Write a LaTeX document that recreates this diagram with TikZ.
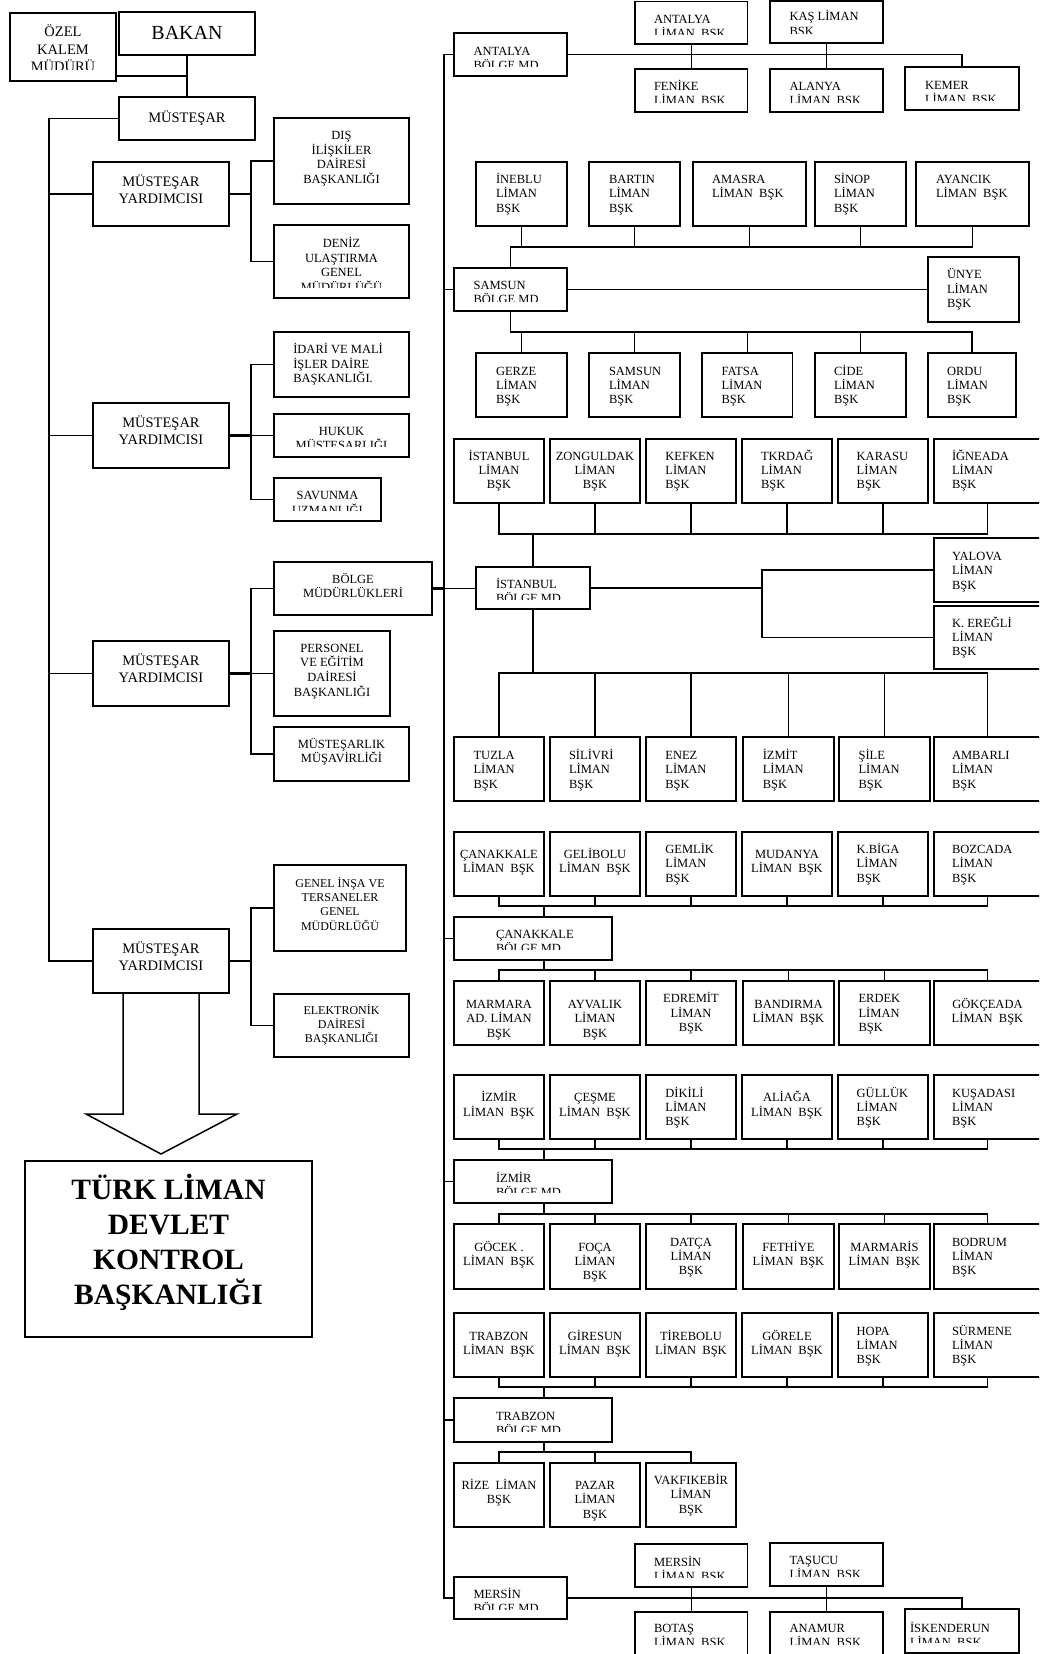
\documentclass[tikz,border=0pt]{standalone}
\usepackage{fontspec}
\setmainfont{Liberation Serif}
% stacked lines: first baseline is the box baseline, fixed line pitch
\newcommand\LinesL[1]{\vtop{\let\\\cr\lineskiplimit=-\maxdimen\halign{##\hfil\cr#1\crcr}}}
\newcommand\LinesC[1]{\vtop{\let\\\cr\lineskiplimit=-\maxdimen\halign{\hfil##\hfil\cr#1\crcr}}}
% framed box from its top-left to its bottom-right corner
\newcommand\bx[5]{\node[frame,minimum width={#4-#2},minimum height={#5-#3}] (#1) at (#2,#3) {};}
% text of a box: left aligned (offset from left side) or centred, first baseline given
\newcommand\tl[5][]{\node[txt,anchor=base west,xshift=#3pt,#1] (#2-t) at (#2.west |- 0,#4) {\LinesL{#5}};}
\newcommand\tc[4][]{\node[txt,anchor=base,#1] (#2-t) at (#2.center |- 0,#3) {\LinesC{#4}};}
% same, with the overflowing part of the text cut off
\newcommand\tlc[6][]{\begin{scope}\clip (#2.north west) rectangle (#2.east |- 0,#5);\tl[#1]{#2}{#3}{#4}{#6}\end{scope}}
\newcommand\tcc[5][]{\begin{scope}\clip (#2.north west) rectangle (#2.east |- 0,#4);\tc[#1]{#2}{#3}{#5}\end{scope}}
\begin{document}
\begin{tikzpicture}[x=1pt,y=-1pt,
  frame/.style={draw,rectangle,line width=1.6pt,inner sep=0pt,outer sep=0pt,anchor=north west},
  txt/.style={inner sep=0pt,outer sep=0pt,font=\fontsize{12.5pt}{14.3pt}\selectfont},
  depttext/.style={font=\fontsize{12.5pt}{14.7pt}\selectfont},
  mytext/.style={font=\fontsize{14.5pt}{17.5pt}\selectfont},
  conn/.style={line width=1.3pt},
  spine/.style={line width=1.6pt},
  bus/.style={line width=1.7pt},
  heavy/.style={line width=2.3pt}]
\fill[white] (0,0) rectangle (1039,1654);
\useasboundingbox (0,0) rectangle (1039,1654);
\clip (0,0) rectangle (1039,1654);

% ---------------- ministry column ----------------
\bx{ozel}{10}{13}{116}{81}
\tcc[font=\fontsize{14.5pt}{17.5pt}\selectfont]{ozel}{37}{70}{ÖZEL\\KALEM\\MÜDÜRÜ}
\bx{bakan}{119}{12}{255}{55}
\tc[font=\fontsize{20pt}{24pt}\selectfont]{bakan}{39.5}{BAKAN}
\bx{mustesar}{119}{97}{255}{140}
\tc[mytext]{mustesar}{122}{MÜSTEŞAR}

\bx{my1}{93}{162}{229}{226}
\tc[mytext]{my1}{186}{MÜSTEŞAR\\YARDIMCISI}
\bx{my2}{93}{403}{229}{468}
\tc[mytext]{my2}{427}{MÜSTEŞAR\\YARDIMCISI}
\bx{my3}{93}{641}{229}{706}
\tc[mytext]{my3}{665}{MÜSTEŞAR\\YARDIMCISI}
\bx{my4}{93}{929}{229}{993}
\tc[mytext]{my4}{953}{MÜSTEŞAR\\YARDIMCISI}

\bx{dis}{274}{118}{409}{204}
\tc[depttext]{dis}{139.5}{DIŞ\\İLİŞKİLER\\DAİRESİ\\BAŞKANLIĞI}
\bx{deniz}{274}{225}{409}{298}
\tcc[depttext]{deniz}{247.5}{287}{DENİZ\\ULAŞTIRMA\\GENEL\\MÜDÜRLÜĞÜ}
\bx{idari}{274}{332}{409}{397}
\tl[depttext]{idari}{19.3}{353.5}{İDARİ VE MALİ\\İŞLER DAİRE\\BAŞKANLIĞI.}
\bx{hukuk}{274}{414}{409}{457}
\tcc[depttext]{hukuk}{435}{446}{HUKUK\\MÜSTEŞARLIĞI}
\bx{savunma}{274}{478}{381}{521}
\tcc[depttext]{savunma}{499.5}{510.5}{SAVUNMA\\UZMANLIĞI}
\bx{bolgemud}{274}{562}{432}{615}
\tc[depttext]{bolgemud}{583}{BÖLGE\\MÜDÜRLÜKLERİ}
\bx{personel}{274}{631}{390}{716}
\tc[depttext]{personel}{652}{PERSONEL\\VE EĞİTİM\\DAİRESİ\\BAŞKANLIĞI}
\bx{musavir}{274}{727}{409}{781}
\tc[depttext]{musavir}{748}{MÜSTEŞARLIK\\MÜŞAVİRLİĞİ}
\bx{genel}{274}{865}{406}{951}
\tc[font=\fontsize{12pt}{14.3pt}\selectfont]{genel}{887.3}{GENEL İNŞA VE\\TERSANELER\\GENEL\\MÜDÜRLÜĞÜ}
\bx{elektronik}{274}{994}{409}{1057}
\tc[font=\fontsize{12pt}{14pt}\selectfont]{elektronik}{1014.8}{ELEKTRONİK\\DAİRESİ\\BAŞKANLIĞI}

\bx{turk}{25}{1161}{312}{1337}
\tc[font=\fontsize{29.5pt}{35.2pt}\selectfont\bfseries]{turk}{1199}{TÜRK LİMAN\\DEVLET\\KONTROL\\BAŞKANLIĞI}

% block arrow under the last deputy
\draw[line width=1.5pt,line join=miter] ([xshift=-38pt]my4.south) -- ++(0,121) -- ++(-37,0)
  -- ++(75,40) -- ++(76,-40) -- ++(-38,0) -- ++(0,-121);

% ---------------- regional directorates ----------------
% Antalya
\bx{antmd}{454}{33}{567}{76}
\tlc{antmd}{19.6}{55.5}{67}{ANTALYA\\BÖLGE MD}
\bx{antliman}{635}{1.5}{747.5}{44}
\tlc{antliman}{19}{23.5}{35}{ANTALYA\\LİMAN~~BŞK}
\bx{kas}{770}{0.8}{883}{43}
\tlc{kas}{19.5}{21}{33.5}{KAŞ LİMAN\\BŞK}
\bx{fenike}{635}{69}{747.5}{112}
\tlc{fenike}{19}{90.5}{102}{FENİKE\\LİMAN~~BŞK}
\bx{alanya}{770}{69}{883}{112}
\tlc{alanya}{19.5}{90.5}{102}{ALANYA\\LİMAN~~BŞK}
\bx{kemer}{905}{67}{1019}{110}
\tlc{kemer}{20}{89.5}{100}{KEMER\\LİMAN~~BŞK}

% Samsun
\bx{ineblu}{476}{162}{567}{226}
\tl{ineblu}{20}{183.5}{İNEBLU\\LİMAN\\BŞK}
\bx{bartin}{589}{162}{680}{226}
\tl{bartin}{20}{183.5}{BARTIN\\LİMAN\\BŞK}
\bx{amasra}{693}{162}{806}{226}
\tl{amasra}{19}{183.5}{AMASRA\\LİMAN~~BŞK}
\bx{sinop}{815}{162}{906}{226}
\tl{sinop}{19}{183.5}{SİNOP\\LİMAN\\BŞK}
\bx{ayancik}{916}{162}{1029}{226}
\tl{ayancik}{20}{183.5}{AYANCIK\\LİMAN~~BŞK}
\bx{samsunmd}{454}{268}{567}{311}
\tlc{samsunmd}{19.6}{289.5}{301}{SAMSUN\\BÖLGE MD}
\bx{unye}{928}{257}{1019}{322}
\tl{unye}{19}{278.8}{ÜNYE\\LİMAN\\BŞK}
\bx{gerze}{476}{353}{567}{417}
\tl{gerze}{20}{375}{GERZE\\LİMAN\\BŞK}
\bx{samsunl}{589}{353}{680}{417}
\tl{samsunl}{20}{375}{SAMSUN\\LİMAN\\BŞK}
\bx{fatsa}{702}{353}{792.6}{417}
\tl{fatsa}{19.5}{375}{FATSA\\LİMAN\\BŞK}
\bx{cide}{815}{353}{906}{417}
\tl{cide}{19}{375}{CİDE\\LİMAN\\BŞK}
\bx{ordu}{928}{353}{1016}{417}
\tl{ordu}{19}{375}{ORDU\\LİMAN\\BŞK}

% Istanbul
\bx{istl}{454}{439}{544}{503}
\tc{istl}{460}{İSTANBUL\\LİMAN\\BŞK}
\bx{zong}{550}{439}{640}{503}
\tc{zong}{460}{ZONGULDAK\\LİMAN\\BŞK}
\bx{kefken}{646}{439}{736}{503}
\tl{kefken}{19.4}{460}{KEFKEN\\LİMAN\\BŞK}
\bx{tkrdag}{742}{439}{832}{503}
\tl{tkrdag}{19}{460}{TKRDAĞ\\LİMAN\\BŞK}
\bx{karasu}{838}{439}{928}{503}
\tl{karasu}{18.7}{460}{KARASU\\LİMAN\\BŞK}
\bx{igneada}{934}{439}{1041}{503}
\tl{igneada}{18}{460}{İĞNEADA\\LİMAN\\BŞK}
\bx{istmd}{476}{567}{590}{609}
\tlc{istmd}{20}{588.5}{599}{İSTANBUL\\BÖLGE MD}
\bx{yalova}{934}{538}{1041}{602}
\tl{yalova}{18}{560.5}{YALOVA\\LİMAN\\BŞK}
\bx{keregli}{934}{606}{1041}{669}
\tl{keregli}{18}{627}{K. EREĞLİ\\LİMAN\\BŞK}
\bx{tuzla}{454}{737}{544}{801}
\tl{tuzla}{19.6}{759.5}{TUZLA\\LİMAN\\BŞK}
\bx{silivri}{550}{737}{640}{801}
\tl{silivri}{19}{759.5}{SİLİVRİ\\LİMAN\\BŞK}
\bx{enez}{646}{737}{736}{801}
\tl{enez}{19.4}{759.5}{ENEZ\\LİMAN\\BŞK}
\bx{izmit}{743}{737}{834}{801}
\tl{izmit}{19.8}{759.5}{İZMİT\\LİMAN\\BŞK}
\bx{sile}{839}{737}{930}{801}
\tl{sile}{19.6}{759.5}{ŞİLE\\LİMAN\\BŞK}
\bx{ambarli}{934}{737}{1041}{801}
\tl{ambarli}{18}{759.5}{AMBARLI\\LİMAN\\BŞK}

% Canakkale
\bx{canl}{454}{832}{544}{896}
\tc{canl}{858.5}{ÇANAKKALE\\LİMAN~~BŞK}
\bx{gelibolu}{550}{832}{640}{896}
\tc{gelibolu}{858.5}{GELİBOLU\\LİMAN~~BŞK}
\bx{gemlik}{646}{832}{736}{896}
\tl{gemlik}{19.4}{853.5}{GEMLİK\\LİMAN\\BŞK}
\bx{mudanya}{742}{832}{832}{896}
\tc{mudanya}{858.5}{MUDANYA\\LİMAN~~BŞK}
\bx{kbiga}{838}{832}{928}{896}
\tl{kbiga}{18.7}{853.5}{K.BİGA\\LİMAN\\BŞK}
\bx{bozcada}{934}{832}{1041}{896}
\tl{bozcada}{18}{853.5}{BOZCADA\\LİMAN\\BŞK}
\bx{canmd}{454}{917}{612}{960}
\tlc{canmd}{42}{938.5}{949}{ÇANAKKALE\\BÖLGE MD}
\bx{marmara}{454}{981}{544}{1045}
\tc{marmara}{1008.5}{MARMARA\\AD. LİMAN\\BŞK}
\bx{ayvalik}{550}{981}{640}{1045}
\tc{ayvalik}{1008.5}{AYVALIK\\LİMAN\\BŞK}
\bx{edremit}{646}{981}{736}{1045}
\tc{edremit}{1002.8}{EDREMİT\\LİMAN\\BŞK}
\bx{bandirma}{743}{981}{834}{1045}
\tc{bandirma}{1008.5}{BANDIRMA\\LİMAN~~BŞK}
\bx{erdek}{839}{981}{930}{1045}
\tl{erdek}{19.6}{1002.8}{ERDEK\\LİMAN\\BŞK}
\bx{gokceada}{934}{981}{1041}{1045}
\tc{gokceada}{1008.5}{GÖKÇEADA\\LİMAN~~BŞK}

% Izmir
\bx{izmirl}{454}{1075}{544}{1139}
\tc{izmirl}{1101.8}{İZMİR\\LİMAN~~BŞK}
\bx{cesme}{550}{1075}{640}{1139}
\tc{cesme}{1101.8}{ÇEŞME\\LİMAN~~BŞK}
\bx{dikili}{646}{1075}{736}{1139}
\tl{dikili}{19.4}{1097}{DİKİLİ\\LİMAN\\BŞK}
\bx{aliaga}{742}{1075}{832}{1139}
\tc{aliaga}{1101.8}{ALİAĞA\\LİMAN~~BŞK}
\bx{gulluk}{838}{1075}{928}{1139}
\tl{gulluk}{18.7}{1097}{GÜLLÜK\\LİMAN\\BŞK}
\bx{kusadasi}{934}{1075}{1041}{1139}
\tl{kusadasi}{18}{1097}{KUŞADASI\\LİMAN\\BŞK}
\bx{izmd}{454}{1160}{612}{1203}
\tlc{izmd}{42}{1182.5}{1192.7}{İZMİR\\BÖLGE MD}
\bx{gocek}{454}{1224}{544}{1289}
\tc{gocek}{1251}{GÖCEK .\\LİMAN~~BŞK}
\bx{foca}{550}{1224}{640}{1289}
\tc{foca}{1251}{FOÇA\\LİMAN\\BŞK}
\bx{datca}{646}{1224}{736}{1289}
\tc{datca}{1246}{DATÇA\\LİMAN\\BŞK}
\bx{fethiye}{743}{1224}{834}{1289}
\tc{fethiye}{1251}{FETHİYE\\LİMAN~~BŞK}
\bx{marmaris}{839}{1224}{930}{1289}
\tc{marmaris}{1251}{MARMARİS\\LİMAN~~BŞK}
\bx{bodrum}{934}{1224}{1041}{1289}
\tl{bodrum}{18}{1246}{BODRUM\\LİMAN\\BŞK}

% Trabzon
\bx{trabl}{454}{1313}{544}{1377}
\tc{trabl}{1340.5}{TRABZON\\LİMAN~~BŞK}
\bx{giresun}{550}{1313}{640}{1377}
\tc{giresun}{1340.5}{GİRESUN\\LİMAN~~BŞK}
\bx{tirebolu}{646}{1313}{736}{1377}
\tc{tirebolu}{1340.5}{TİREBOLU\\LİMAN~~BŞK}
\bx{gorele}{742}{1313}{832}{1377}
\tc{gorele}{1340.5}{GÖRELE\\LİMAN~~BŞK}
\bx{hopa}{838}{1313}{928}{1377}
\tl{hopa}{18.7}{1335}{HOPA\\LİMAN\\BŞK}
\bx{surmene}{934}{1313}{1041}{1377}
\tl{surmene}{18}{1335}{SÜRMENE\\LİMAN\\BŞK}
\bx{trmd}{454}{1398}{612}{1442}
\tlc{trmd}{42}{1420}{1431}{TRABZON\\BÖLGE MD}
\bx{rize}{454}{1463}{544}{1527}
\tc{rize}{1489.5}{RİZE~~LİMAN\\BŞK}
\bx{pazar}{550}{1463}{640}{1527}
\tc{pazar}{1489.5}{PAZAR\\LİMAN\\BŞK}
\bx{vakfikebir}{646}{1463}{736}{1527}
\tc{vakfikebir}{1484.5}{VAKFIKEBİR\\LİMAN\\BŞK}

% Mersin
\bx{merliman}{635}{1544}{747.5}{1587}
\tlc{merliman}{19}{1566}{1577}{MERSİN\\LİMAN~~BŞK}
\bx{tasucu}{770}{1543}{883}{1586}
\tlc{tasucu}{19.5}{1564.5}{1576}{TAŞUCU\\LİMAN~~BŞK}
\bx{mermd}{454}{1577}{567}{1619}
\tlc{mermd}{19.6}{1598.5}{1609}{MERSİN\\BÖLGE MD}
\bx{botas}{635}{1612}{747.5}{1656}
\tlc{botas}{19}{1632.5}{1644}{BOTAŞ\\LİMAN~~BŞK}
\bx{anamur}{770}{1612}{883}{1656}
\tlc{anamur}{19.5}{1632.5}{1644}{ANAMUR\\LİMAN~~BŞK}
\bx{iskenderun}{905}{1609}{1019}{1653}
\tlc{iskenderun}{5}{1632}{1642.7}{İSKENDERUN\\LİMAN~~BŞK}

% ---------------- connectors ----------------
\coordinate (oj) at (bakan.south |- 0,76);
\coordinate (sp) at (49,0);
\coordinate (br) at (251,0);
\coordinate (rsp) at (444,0);
\draw[conn] (bakan.south) -- (mustesar.north);
\draw[conn] (ozel.east |- oj) -- (oj);
\draw[spine] (mustesar.west) -| (my4.west -| sp) -- (my4.west);
\foreach \m in {my1,my2,my3} \draw[conn] (\m.west) -- (\m.west -| sp);
\foreach \m in {my1,my2,my3,my4} \draw[heavy] (\m.east) -- (\m.east -| br);
\draw[conn] (dis.west) -| (deniz.west -| br) -- (deniz.west);
\draw[conn] (idari.west) -| (savunma.west -| br) -- (savunma.west);
\draw[conn] (hukuk.west) -- (hukuk.west -| br);
\draw[conn] (bolgemud.west) -| (musavir.west -| br) -- (musavir.west);
\draw[conn] (personel.west) -- (personel.west -| br);
\draw[conn] (genel.west) -| (elektronik.west -| br) -- (elektronik.west);

% regional spine
\draw[spine] (antmd.west) -| (mermd.west -| rsp) -- (mermd.west);
\foreach \m in {samsunmd,canmd,izmd,trmd} \draw[conn] (\m.west) -- (\m.west -| rsp);
\draw[heavy] (bolgemud.east) -- (bolgemud.east -| rsp);
\draw[conn] (bolgemud.east -| rsp) -- (bolgemud.east -| istmd.west);

% Antalya
\draw[conn] (antmd.east) -| (kemer.north);
\draw[conn] (antliman.south) -- (fenike.north);
\draw[conn] (kas.south) -- (alanya.north);

% Samsun
\coordinate (sA) at (samsunmd.north |- 0,247);
\draw[bus] (samsunmd.north) -- (sA) -| (ayancik.south);
\foreach \n in {ineblu,bartin,amasra,sinop} \draw[conn] (\n.south) -- (\n.south |- sA);
\draw[conn] (samsunmd.east) -- (unye.west);
\coordinate (sB) at (samsunmd.south |- 0,332);
\draw[bus] (samsunmd.south) -- (sB) -| (ordu.north);
\foreach \n in {gerze,samsunl,fatsa,cide} \draw[conn] (\n.north) -- (\n.north |- sB);

% Istanbul
\coordinate (iA) at (istmd.north |- 0,534);
\draw[conn] (istl.south) |- (iA -| igneada.south) -- (igneada.south);
\foreach \n in {zong,kefken,tkrdag,karasu} \draw[conn] (\n.south) -- (\n.south |- iA);
\draw[heavy] (istmd.north) -- (iA);
\coordinate (yk) at (762,588);
\draw[conn] (istmd.east) -- (istmd.east -| yk);
\draw[conn] (yalova.west) -| (yk) |- (keregli.west);
\coordinate (iB) at (istmd.south |- 0,673);
\draw[heavy] (istmd.south) -- (iB);
\draw[bus] (tuzla.north) |- (iB -| ambarli.north) -- (ambarli.north);
\foreach \n in {silivri,enez,izmit,sile} \draw[conn] (\n.north) -- (\n.north |- iB);

% Canakkale
\coordinate (cA) at (544,906);
\draw[bus] (canl.south) |- (cA -| bozcada.south) -- (bozcada.south);
\foreach \n in {gelibolu,gemlik,mudanya,kbiga} \draw[conn] (\n.south) -- (\n.south |- cA);
\draw[heavy] (cA) -- (cA |- canmd.north);
\coordinate (cB) at (544,970);
\draw[heavy] (cB |- canmd.south) -- (cB);
\draw[bus] (marmara.north) |- (cB -| gokceada.north) -- (gokceada.north);
\foreach \n in {ayvalik,edremit,bandirma,erdek} \draw[conn] (\n.north) -- (\n.north |- cB);

% Izmir
\coordinate (zA) at (544,1149);
\draw[bus] (izmirl.south) |- (zA -| kusadasi.south) -- (kusadasi.south);
\foreach \n in {cesme,dikili,aliaga,gulluk} \draw[conn] (\n.south) -- (\n.south |- zA);
\draw[heavy] (zA) -- (zA |- izmd.north);
\coordinate (zB) at (544,1214);
\draw[heavy] (zB |- izmd.south) -- (zB);
\draw[bus] (gocek.north) |- (zB -| bodrum.north) -- (bodrum.north);
\foreach \n in {foca,datca,fethiye,marmaris} \draw[conn] (\n.north) -- (\n.north |- zB);

% Trabzon
\coordinate (tA) at (544,1387);
\draw[bus] (trabl.south) |- (tA -| surmene.south) -- (surmene.south);
\foreach \n in {giresun,tirebolu,gorele,hopa} \draw[conn] (\n.south) -- (\n.south |- tA);
\draw[heavy] (tA) -- (tA |- trmd.north);
\coordinate (tB) at (544,1452);
\draw[heavy] (tB |- trmd.south) -- (tB);
\draw[bus] (rize.north) |- (tB -| vakfikebir.north) -- (vakfikebir.north);
\draw[conn] (pazar.north) -- (pazar.north |- tB);

% Mersin
\draw[bus] (mermd.east) -| (iskenderun.north);
\draw[conn] (merliman.south) -- (botas.north);
\draw[conn] (tasucu.south) -- (anamur.north);
\end{tikzpicture}
\end{document}
